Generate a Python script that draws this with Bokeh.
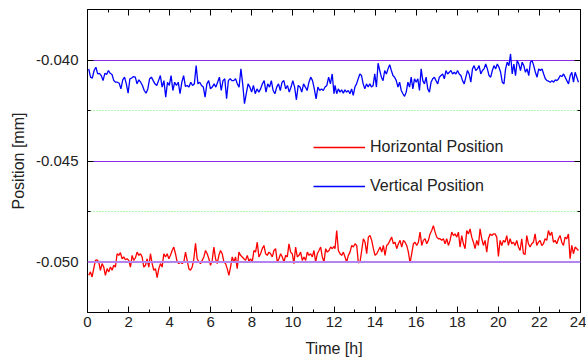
from bokeh.plotting import figure
from bokeh.models import (Range1d, LinearAxis, SingleIntervalTicker, NumeralTickFormatter,
                          Span, Legend, LegendItem)
from bokeh.embed import file_html
from bokeh.resources import INLINE
import numpy as np

# ---- data (micrometres) ----
vertical_first_half_um = [
    -40.44,-40.85,-40.90,-40.52,-40.36,-40.69,-40.66,-40.77,-41.02,-40.66,
    -40.72,-40.52,-40.66,-40.72,-41.02,-41.10,-41.10,-41.15,-41.43,-40.98,
    -40.85,-41.18,-41.64,-40.93,-40.89,-40.82,-40.85,-41.18,-40.98,-41.10,
    -41.26,-41.51,-41.64,-41.43,-40.93,-40.85,-41.02,-41.18,-41.26,-41.02,
    -40.77,-41.34,-41.02,-41.84,-41.10,-41.26,-40.77,-41.51,-41.10,-41.26,
    -41.10,-41.67,-41.10,-40.77,-41.31,-41.26,-41.34,-41.10,-41.26,-41.18,
    -40.28,-41.18,-41.10,-41.26,-41.34,-41.84,-41.18,-41.02,-41.43,-41.34,
    -41.18,-41.34,-41.10,-40.85,-41.51,-41.02,-40.93,-41.92,-41.02,-40.93,
    -41.02,-41.02,-40.93,-41.18,-41.34,-40.44,-41.18,-42.16,-41.67,-41.18,
    -41.34,-41.59,-41.26,-41.67,-41.43,-41.59,-41.43,-41.18,-41.02,-41.59,
    -41.18,-41.34,-41.02,-41.51,-41.67,-41.34,-41.18,-41.51,-41.10,-41.02,
    -41.43,-41.26,-41.59,-41.34,-41.02,-41.34,-41.97,-41.26,-41.34,-41.59,
    -41.18,-41.34,-41.51,-41.10,-40.85,-41.02,-41.43,-41.92,-41.34,-41.51,
    -41.43,-41.51,-41.34,-41.26,-40.85,-41.18,-40.69,-41.67]
vertical_second_half_um = [
    -41.26,-41.67,-41.43,-41.59,-41.48,-41.64,-41.48,-41.59,-41.51,-41.67,
    -41.43,-41.75,-41.34,-41.18,-40.93,-40.69,-40.77,-41.18,-41.43,-41.18,
    -41.34,-41.18,-41.34,-41.26,-40.69,-41.34,-40.16,-40.52,-40.85,-41.02,
    -40.52,-40.69,-40.44,-40.23,-40.52,-40.77,-40.85,-41.02,-41.34,-41.10,
    -41.51,-41.67,-41.80,-41.59,-41.10,-41.34,-40.85,-41.43,-40.93,-41.10,
    -40.93,-41.51,-40.44,-41.02,-41.18,-40.85,-41.43,-41.59,-41.10,-40.93,
    -40.85,-41.02,-41.18,-40.85,-40.77,-40.69,-40.93,-40.52,-40.69,-40.61,
    -40.52,-40.69,-40.61,-40.69,-40.52,-40.69,-40.77,-41.02,-41.18,-40.85,
    -40.52,-40.69,-41.10,-40.44,-40.28,-40.52,-40.44,-40.28,-40.69,-40.52,
    -40.44,-40.20,-40.44,-40.77,-40.85,-40.52,-40.28,-40.44,-40.20,-40.36,
    -40.61,-41.10,-41.18,-40.44,-40.11,-40.28,-39.70,-40.69,-40.20,-40.77,
    -40.03,-40.20,-40.52,-40.11,-40.28,-40.61,-40.44,-40.77,-40.11,-40.03,
    -40.28,-40.61,-40.85,-40.44,-40.52,-40.44,-40.69,-40.93,-41.02,-41.05,
    -41.10,-41.02,-41.10,-40.98,-41.02,-40.93,-40.77,-40.82,-40.69,-40.85,
    -41.02,-41.18,-40.77,-40.61,-41.10,-40.61,-40.85,-41.10]
horizontal_first_half_um = [
    -50.66,-50.49,-50.74,-50.33,-49.92,-49.89,-50.00,-50.41,-50.08,-50.25,
    -50.66,-50.33,-50.49,-50.25,-50.41,-50.16,-50.25,-49.59,-49.67,-49.54,
    -49.84,-49.75,-49.89,-49.84,-49.92,-50.25,-49.67,-49.92,-49.79,-49.51,
    -49.67,-49.59,-49.75,-50.25,-50.16,-49.84,-50.25,-49.59,-50.08,-50.41,
    -50.33,-50.77,-50.33,-50.08,-50.25,-49.59,-49.75,-49.59,-49.84,-49.67,
    -49.43,-49.26,-49.59,-50.00,-50.08,-50.00,-50.08,-50.00,-49.51,-49.92,
    -50.33,-50.41,-50.25,-49.84,-49.07,-49.84,-50.00,-50.08,-49.92,-49.75,
    -49.43,-49.59,-49.84,-50.16,-49.92,-49.26,-49.84,-50.08,-49.67,-49.43,
    -49.59,-50.00,-50.08,-50.33,-50.66,-50.25,-49.75,-50.00,-49.75,-50.33,
    -49.51,-49.67,-49.75,-49.84,-49.92,-49.67,-49.95,-49.84,-50.00,-49.43,
    -49.51,-49.02,-49.75,-49.59,-49.34,-49.18,-49.59,-49.67,-49.51,-49.59,
    -49.75,-49.43,-49.34,-50.00,-49.84,-49.59,-49.75,-50.00,-49.67,-49.75,
    -49.10,-49.51,-49.59,-50.08,-49.26,-49.75,-49.67,-49.51,-49.92,-49.75,
    -49.92,-49.51,-49.67,-49.59,-49.75,-49.43,-50.00,-49.59,-49.43,-49.26,
    -49.75,-50.00,-49.34,-49.51,-49.43,-49.26,-49.34,-49.23]
horizontal_second_half_um = [
    -49.34,-48.44,-49.43,-49.59,-49.67,-49.51,-49.75,-50.00,-49.67,-49.51,
    -49.18,-49.26,-49.10,-49.18,-50.05,-50.00,-49.43,-48.85,-49.02,-49.59,
    -48.77,-48.69,-48.93,-49.34,-49.67,-49.59,-49.43,-49.26,-49.51,-49.18,
    -49.67,-49.18,-49.10,-48.93,-48.77,-49.10,-49.02,-49.34,-49.10,-48.93,
    -49.26,-48.93,-49.02,-49.18,-49.51,-50.05,-49.59,-49.10,-49.02,-49.18,
    -49.02,-48.52,-49.18,-48.93,-48.85,-49.10,-48.93,-48.61,-48.44,-48.20,
    -48.52,-48.77,-48.85,-48.85,-48.93,-48.85,-49.10,-48.85,-49.18,-48.93,
    -48.52,-48.69,-48.61,-48.77,-48.52,-49.26,-48.69,-49.10,-49.34,-48.44,
    -48.61,-48.36,-48.77,-49.02,-49.34,-48.93,-49.18,-48.36,-48.85,-49.18,
    -48.93,-49.51,-48.85,-48.61,-48.69,-48.61,-48.61,-48.77,-49.72,-48.93,
    -49.18,-48.93,-49.02,-48.69,-49.18,-48.85,-49.10,-49.02,-49.18,-48.93,
    -49.26,-49.43,-48.85,-49.59,-49.62,-48.69,-49.10,-49.26,-49.10,-49.02,
    -48.61,-49.18,-49.02,-48.93,-49.18,-49.10,-48.85,-48.93,-48.44,-48.69,
    -48.52,-49.02,-48.93,-49.10,-48.85,-48.69,-49.02,-49.18,-48.77,-48.85,
    -48.61,-49.84,-49.18,-49.59,-49.26,-49.34,-49.43]

first_half_hours = (0.06, 12.0)
second_half_hours = (12.05, 23.9)

x_ticks_interval = 2
y_ticks_interval = 0.005

def hours(span, n):
    return np.linspace(span[0], span[1], n)

t_v = np.concatenate([hours(first_half_hours, len(vertical_first_half_um)),
                      hours(second_half_hours, len(vertical_second_half_um))])
y_v = np.array(vertical_first_half_um + vertical_second_half_um) / 1000.0
t_h = np.concatenate([hours(first_half_hours, len(horizontal_first_half_um)),
                      hours(second_half_hours, len(horizontal_second_half_um))])
y_h = np.array(horizontal_first_half_um + horizontal_second_half_um) / 1000.0

FONT = "Liberation Sans"

p = figure(width=586, height=360, output_backend="svg", toolbar_location=None,
           x_range=Range1d(0, 24), y_range=Range1d(-0.0525, -0.0375),
           x_axis_location=None, y_axis_location=None,
           min_border_left=87, min_border_right=6, min_border_top=9, min_border_bottom=48)
p.outline_line_color = None
p.background_fill_color = "white"

xt = SingleIntervalTicker(interval=x_ticks_interval, num_minor_ticks=2)
yt = SingleIntervalTicker(interval=y_ticks_interval, num_minor_ticks=2)

def style(ax, labels=True):
    ax.axis_line_color = "black"
    ax.axis_line_width = 1
    ax.major_tick_line_color = "black"
    ax.minor_tick_line_color = "black"
    ax.major_tick_in = 6
    ax.major_tick_out = 0
    ax.minor_tick_in = 3
    ax.minor_tick_out = 0
    if labels:
        ax.major_label_text_font = FONT
        ax.major_label_text_font_size = "15px"
        ax.major_label_text_color = "#222222"
        ax.axis_label_text_font = FONT
        ax.axis_label_text_font_size = "16px"
        ax.axis_label_text_font_style = "normal"
        ax.axis_label_text_color = "#222222"
    else:
        ax.major_label_text_font_size = "1px"
        ax.major_label_text_color = None
        ax.major_label_standoff = 0

xb = LinearAxis(ticker=xt, axis_label="Time [h]")
style(xb)
xb.major_label_standoff = 4
xb.axis_label_standoff = 10
p.add_layout(xb, "below")

yl = LinearAxis(ticker=yt, axis_label="Position [mm]",
                formatter=NumeralTickFormatter(format="0.000"))
style(yl)
yl.major_label_standoff = 9
yl.axis_label_standoff = 6
p.add_layout(yl, "left")

xa = LinearAxis(ticker=xt)
style(xa, labels=False)
p.add_layout(xa, "above")

yr = LinearAxis(ticker=yt)
style(yr, labels=False)
p.add_layout(yr, "right")

p.xgrid.visible = False
p.ygrid.ticker = yt
p.ygrid.grid_line_color = "#8a2be2"
p.ygrid.grid_line_width = 1
p.ygrid.minor_grid_line_color = "#66ee66"
p.ygrid.minor_grid_line_dash = "1 2"
p.ygrid.minor_grid_line_width = 1

p.add_layout(Span(location=-0.050, dimension="width", line_color="#b384f0", line_width=2))

r_h = p.line(t_h, y_h, line_color="#ff0000", line_width=1.3)
r_v = p.line(t_v, y_v, line_color="#0000ff", line_width=1.3)

legend = Legend(items=[LegendItem(label="Horizontal Position", renderers=[r_h]),
                       LegendItem(label="Vertical Position", renderers=[r_v])],
                location=(226, 116), orientation="vertical",
                border_line_color=None, background_fill_alpha=0,
                glyph_width=52, glyph_height=20, label_height=20, spacing=19,
                padding=0, margin=0, label_standoff=5,
                label_text_font=FONT, label_text_font_size="16px",
                label_text_color="#222222")
p.add_layout(legend, "center")

open("out.html", "w").write(file_html(p, INLINE))
